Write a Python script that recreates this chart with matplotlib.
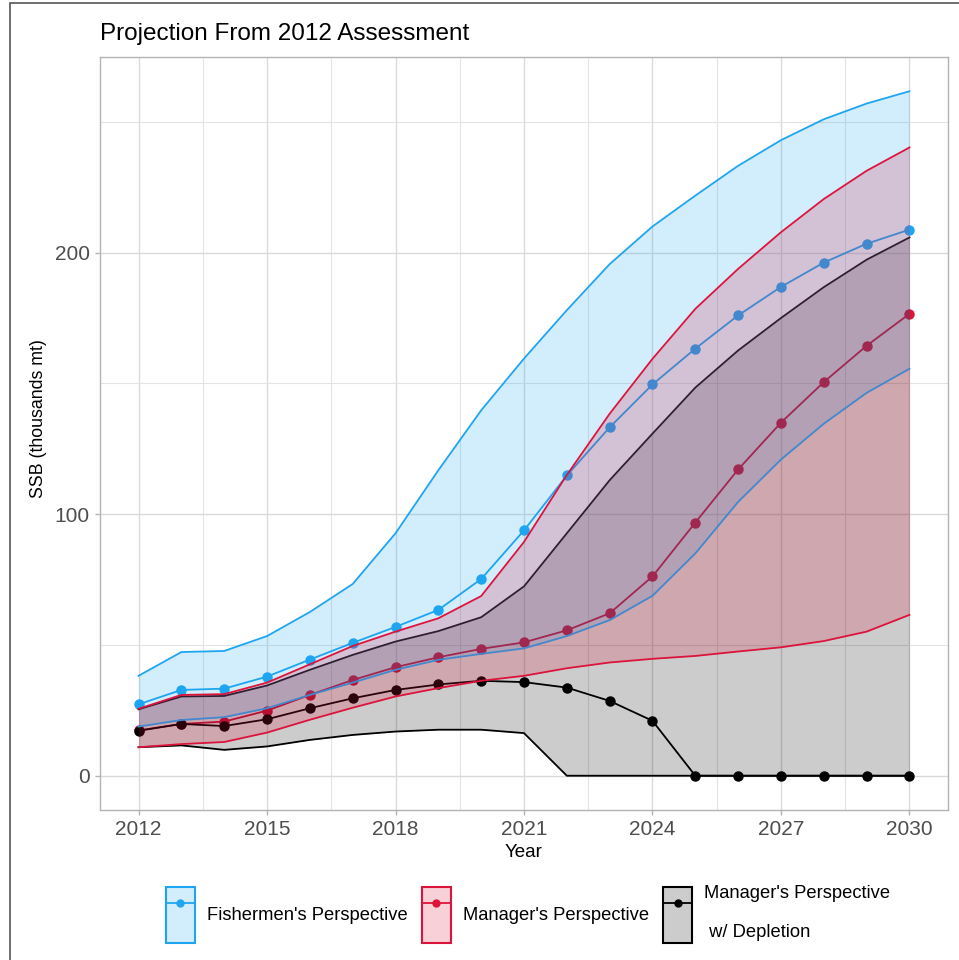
import numpy as np
import matplotlib.pyplot as plt
from matplotlib.patches import Patch, Rectangle
from matplotlib.lines import Line2D
from matplotlib.colors import to_rgba
from matplotlib.offsetbox import TextArea

plt.rcParams['font.family'] = ['Liberation Sans', 'DejaVu Sans']

# SSB projections (thousands mt) -------------------------------------
years = np.arange(2012, 2031)

fish_mean = [27.3, 32.8, 33.3, 37.9, 44.4, 50.8, 56.9, 63.4, 75.2, 93.8,
             114.8, 133.2, 149.6, 163.3, 176.0, 186.9, 196.2, 203.4, 208.8]
fish_low = [18.8, 21.3, 22.4, 25.8, 30.9, 35.6, 40.5, 44.3, 46.6, 48.7,
            53.4, 59.5, 68.8, 85.0, 104.7, 120.9, 134.6, 146.4, 155.6]
fish_high = [38.2, 47.3, 47.7, 53.4, 62.6, 73.3, 92.7, 116.8, 139.7, 159.5,
             178.0, 195.6, 210.0, 221.8, 233.2, 243.0, 251.0, 257.0, 261.7]

mgr_mean = [17.3, 19.8, 20.7, 24.9, 30.9, 36.6, 41.5, 45.3, 48.5, 51.0,
            55.6, 62.1, 76.2, 96.8, 117.1, 135.0, 150.5, 164.4, 176.6]
mgr_low = [10.9, 12.1, 12.9, 16.5, 21.4, 26.0, 30.3, 33.5, 36.3, 38.2,
           41.1, 43.3, 44.7, 45.8, 47.5, 49.1, 51.5, 55.1, 61.5]
mgr_high = [25.6, 30.9, 31.2, 35.6, 42.6, 49.6, 55.1, 60.2, 68.7, 89.4,
            115.0, 138.4, 159.4, 178.5, 193.8, 207.8, 220.5, 231.3, 240.2]

dep_mean = [17.2, 19.8, 19.0, 21.6, 25.8, 29.6, 32.8, 34.9, 36.3, 35.8,
            33.7, 28.6, 21.0, 0, 0, 0, 0, 0, 0]
dep_low = [10.9, 11.6, 9.9, 11.2, 13.7, 15.6, 16.9, 17.6, 17.6, 16.3,
           0, 0, 0, 0, 0, 0, 0, 0, 0]
dep_high = [25.4, 30.3, 30.5, 34.5, 40.5, 46.2, 51.3, 55.3, 60.6, 72.4,
            92.7, 113.0, 130.8, 148.4, 162.6, 175.0, 186.8, 197.3, 205.8]

labels = ["Fishermen's Perspective", "Manager's Perspective",
          "Manager's Perspective\n\n w/ Depletion"]
colors = ['#1EA5F2', '#DC143C', '#000000']

# Figure ---------------------------------------------------------------
fig = plt.figure(figsize=(9.59, 9.60), dpi=100)
ax = fig.add_axes([100/959, 1-810/960, 848/959, 753/960])

series = [(fish_mean, fish_low, fish_high),
          (mgr_mean, mgr_low, mgr_high),
          (dep_mean, dep_low, dep_high)]

# mean trajectories go underneath the ribbons
for (m, lo, hi), c in zip(series, colors):
    ax.plot(years, m, color=c, lw=1.3, marker='o', ms=6.5, zorder=2)

# ribbons: depletion first, then fishermen, then managers on top
z = 3
for i in [2, 0, 1]:
    m, lo, hi = series[i]
    c = colors[i]
    ax.fill_between(years, lo, hi, color=c, alpha=0.2, lw=0, zorder=z)
    ax.plot(years, lo, color=c, lw=1.3, zorder=z + 0.1)
    ax.plot(years, hi, color=c, lw=1.3, zorder=z + 0.1)
    z += 0.2

# Axes styling -----------------------------------------------------------
ax.set_xlim(2011.1, 2030.9)
ax.set_ylim(-13.1, 274.8)
ax.set_xticks(np.arange(2012, 2031, 3))
ax.set_xticks(np.arange(2013.5, 2030, 3), minor=True)
ax.set_yticks([0, 100, 200])
ax.set_yticks([50, 150, 250], minor=True)
ax.grid(which='major', color='#DBDBDB', lw=1.0)
ax.grid(which='minor', color='#E3E3E3', lw=0.8)
ax.set_axisbelow(True)
for s in ax.spines.values():
    s.set_color('#B3B3B3')
    s.set_linewidth(1.0)
ax.tick_params(which='major', color='#B3B3B3', length=3.5, width=1.0,
               labelcolor='#4D4D4D', labelsize=15, pad=4)
ax.tick_params(which='minor', length=0)

ax.set_xlabel('Year', fontsize=13.5, labelpad=3)
ax.set_ylabel('SSB (thousands mt)', fontsize=12.8)
ax.yaxis.set_label_coords(-0.063, 0.52)
ax.set_title('Projection From 2012 Assessment', loc='left', fontsize=17.5, pad=12)

# Legend -------------------------------------------------------------------
handles = []
for c in colors:
    key = Patch(facecolor=to_rgba(c, 0.2), edgecolor=c, linewidth=1.5)
    mark = Line2D([], [], color=c, lw=1.3, marker='o', ms=5)
    handles.append((key, mark))

leg = fig.legend(handles, labels, loc='center', ncol=3, frameon=False,
                 bbox_to_anchor=(528/959, 1-914/960), fontsize=13.2,
                 handlelength=1.58, handleheight=4.33, handletextpad=0.66,
                 columnspacing=0.77)
for ta in leg.findobj(lambda a: isinstance(a, TextArea)):
    ta.set_multilinebaseline(True)

# outer frame
fig.patches.append(Rectangle((10/959, -0.02), 1.0, 1-3/960+0.02, transform=fig.transFigure,
                             fill=False, edgecolor='#555555', lw=1.2))

fig.savefig('out.png', dpi=100)
